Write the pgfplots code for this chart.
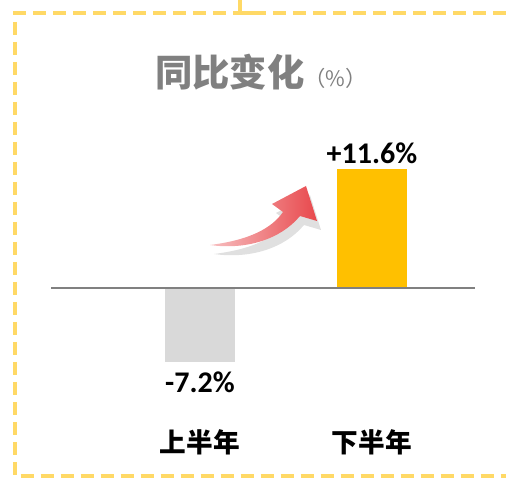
\documentclass[border=0pt]{standalone}
\usepackage{fontspec}
\setmainfont{Carlito}
\newfontfamily\cjk{Noto Sans CJK SC}
\usepackage{pgfplots}
\pgfplotsset{compat=1.18}
\definecolor{frame}{RGB}{255,217,102}
\definecolor{barup}{RGB}{255,192,0}
\definecolor{bardown}{RGB}{217,217,217}
\definecolor{axgray}{RGB}{128,128,128}
\definecolor{arrowred}{RGB}{232,72,76}

\begin{document}
\begin{tikzpicture}[x=0.75pt,y=0.75pt]
\path[use as bounding box] (0,0) rectangle (506,478);

% dashed frame
\draw[frame, line width=3pt, dash pattern=on 9.75pt off 5.25pt]
  (506,464.5) -- (14.5,464.5) -- (14.5,2) -- (506,2);
\draw[frame, line width=3pt] (240,478) -- (240,464.5) -- (254,464.5);

% title
\node[anchor=west, inner sep=0pt, text=axgray] at (155,406)
  {\cjk\fontsize{28}{30}\selectfont\bfseries 同比变化{\fontsize{16}{17}\selectfont\mdseries （\%）}};

\begin{axis}[
    at={(38.25pt,72.975pt)}, anchor=south west,
    x=129pt, y=7.725pt,
    xmin=-0.866, xmax=1.599, ymin=-9, ymax=14,
    axis x line=middle, axis y line=none,
    x axis line style={-, draw=axgray, line width=1.5pt},
    axis on top,
    xtick={0,1}, xticklabels={上半年,下半年},
    major tick length=0pt,
    xticklabel style={font=\cjk\bfseries\fontsize{20}{22}\selectfont,
      anchor=center, yshift=-116pt},
    nodes near coords,
    point meta=explicit symbolic,
    every node near coord/.append style={font=\bfseries\fontsize{22.5}{24}\selectfont, text=black},
    clip=false,
]
\addplot[ybar, bar shift=0pt, bar width=52.5pt, fill=bardown, draw=none,
    every node near coord/.append style={anchor=north, yshift=-4pt}]
  coordinates {(0,-7.2) [{-7.2\%}]};
\addplot[ybar, bar shift=0pt, bar width=52.5pt, fill=barup, draw=none]
  coordinates {(1,11.6) [{+11.6\%}]};
\end{axis}

% arrow
\fill[black, opacity=0.12] (214,224) .. controls (254,229) and (276,241) .. (287,257)
  -- (276,265) -- (310,283) -- (321,248) -- (304,253)
  .. controls (284,229) and (249,219) .. cycle;
\shade[left color=arrowred!35, right color=arrowred] (210,233) .. controls (250,238) and (272,250) .. (283,266)
  -- (272,274) -- (306,292) -- (317,257) -- (300,262)
  .. controls (280,238) and (245,228) .. cycle;
\end{tikzpicture}
\end{document}
